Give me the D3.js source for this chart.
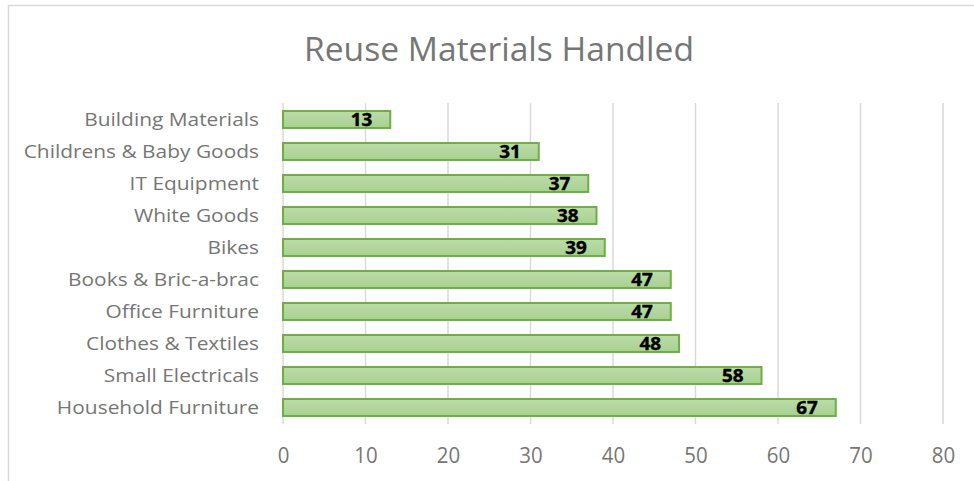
<!DOCTYPE html>
<html>
<head>
<meta charset="utf-8">
<script src="https://cdn.jsdelivr.net/npm/d3@7"></script>
<style>
  body { margin: 0; background: #fff; }
  svg text { font-family: "Open Sans", Lato, sans-serif; }
</style>
</head>
<body>
<svg id="chart" width="974" height="481"></svg>
<script>
// categories top to bottom, as in the picture
var categories = ["Building Materials", "Childrens & Baby Goods", "IT Equipment", "White Goods",
    "Bikes", "Books & Bric-a-brac", "Office Furniture", "Clothes & Textiles",
    "Small Electricals", "Household Furniture"];
var values = [13, 31, 37, 38, 39, 47, 47, 48, 58, 67];
var xTicks = [0, 10, 20, 30, 40, 50, 60, 70, 80];
var title = "Reuse Materials Handled";

var svg = d3.select("#chart");

// chart frame (right and bottom edges fall outside the window)
svg.append("rect")
    .attr("x", 8.5).attr("y", 5.5)
    .attr("width", 1000).attr("height", 500)
    .attr("fill", "none")
    .attr("stroke", "#d9d9d9")
    .attr("stroke-width", 1.5);

var defs = svg.append("defs");
var grad = defs.append("linearGradient")
    .attr("id", "barGrad")
    .attr("x1", 0).attr("y1", 0).attr("x2", 0).attr("y2", 1);
grad.append("stop").attr("offset", "0%").attr("stop-color", "#bcdcab");
grad.append("stop").attr("offset", "100%").attr("stop-color", "#a8d18f");

var xScale = d3.scaleLinear()
    .domain([0, 80])
    .range([283, 943]);

var yScale = d3.scaleBand()
    .domain(categories)
    .range([103.5, 423.5])
    .paddingInner(0.47)
    .paddingOuter(0.235);

// title (text in the picture is a bit wide, so stretch it)
svg.append("text")
    .attr("transform", "translate(499,61) scale(1.05,1)")
    .attr("text-anchor", "middle")
    .attr("fill", "#767676")
    .style("font-size", "32px")
    .text(title);

// gridlines
svg.append("g")
    .selectAll("line")
    .data(xTicks)
    .enter()
    .append("line")
    .attr("x1", function(d){ return xScale(d); })
    .attr("x2", function(d){ return xScale(d); })
    .attr("y1", 103)
    .attr("y2", 424)
    .attr("stroke", "#d9d9d9")
    .attr("stroke-width", 1.5);

// x axis tick labels
var xAxis = d3.axisBottom(xScale)
    .tickValues(xTicks)
    .tickSize(0)
    .tickPadding(0);

svg.append("g")
    .attr("transform", "translate(0,447)")
    .call(xAxis)
    .call(function(g){ g.select(".domain").remove(); })
    .selectAll("text")
    .attr("fill", "#767676")
    .attr("dy", "0.71em")
    .attr("transform", "scale(0.93,1)")
    .style("font-size", "22px")
    .style("font-family", "'Open Sans', Lato, sans-serif");

// y axis category labels
var yAxis = d3.axisLeft(yScale)
    .tickSize(0)
    .tickPadding(0);

svg.append("g")
    .attr("transform", "translate(259,0)")
    .call(yAxis)
    .call(function(g){ g.select(".domain").remove(); })
    .selectAll("text")
    .attr("fill", "#767676")
    .attr("transform", "scale(1.1,1)")
    .style("font-size", "19px")
    .style("font-family", "'Open Sans', Lato, sans-serif");

// bars
svg.append("g")
    .selectAll("rect")
    .data(values)
    .enter()
    .append("rect")
    .attr("x", xScale(0))
    .attr("y", function(d, i){ return yScale(categories[i]); })
    .attr("width", function(d){ return xScale(d) - xScale(0); })
    .attr("height", yScale.bandwidth())
    .attr("fill", "url(#barGrad)")
    .attr("stroke", "#70ad47")
    .attr("stroke-width", 2);

// value labels, inside end
svg.append("g")
    .selectAll("text")
    .data(values)
    .enter()
    .append("text")
    .attr("transform", function(d, i){
        var y = yScale(categories[i]) + yScale.bandwidth() / 2;
        return "translate(" + (xScale(d) - 18) + "," + y + ") scale(1.05,1)";
    })
    .attr("dy", "0.37em")
    .attr("text-anchor", "end")
    .attr("fill", "#000")
    .attr("stroke", "#000")
    .attr("stroke-width", 0.4)
    .style("font-size", "18px")
    .style("font-weight", "bold")
    .text(function(d){ return d; });
</script>
</body>
</html>
